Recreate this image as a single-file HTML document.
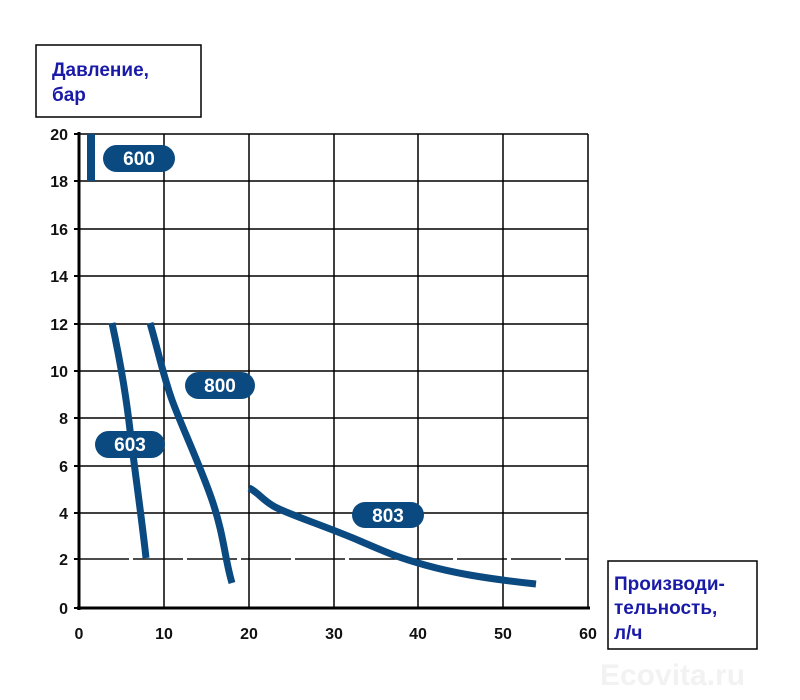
<!DOCTYPE html>
<html><head><meta charset="utf-8"><style>
body{margin:0;background:#fff;}
svg{display:block;}
</style></head><body>
<svg width="800" height="700" xmlns="http://www.w3.org/2000/svg" font-family="'Liberation Sans', sans-serif">
<rect width="800" height="700" fill="#fff"/>
<g stroke="#000" stroke-width="1.5">
<line x1="79" y1="134" x2="588" y2="134"/>
<line x1="79" y1="181" x2="588" y2="181"/>
<line x1="79" y1="229" x2="588" y2="229"/>
<line x1="79" y1="276" x2="588" y2="276"/>
<line x1="79" y1="324" x2="588" y2="324"/>
<line x1="79" y1="371" x2="588" y2="371"/>
<line x1="79" y1="418" x2="588" y2="418"/>
<line x1="79" y1="466" x2="588" y2="466"/>
<line x1="79" y1="513" x2="588" y2="513"/>
<line x1="79" y1="559" x2="588" y2="559" stroke="#111" stroke-dasharray="50 4"/>
<line x1="164" y1="134" x2="164" y2="608"/>
<line x1="249" y1="134" x2="249" y2="608"/>
<line x1="334" y1="134" x2="334" y2="608"/>
<line x1="418" y1="134" x2="418" y2="608"/>
<line x1="503" y1="134" x2="503" y2="608"/>
<line x1="588" y1="134" x2="588" y2="608"/>
</g>
<line x1="79" y1="132" x2="79" y2="610" stroke="#000" stroke-width="3"/>
<line x1="77" y1="608" x2="590" y2="608" stroke="#000" stroke-width="3"/>
<g stroke="#000" stroke-width="2">
<line x1="74" y1="134" x2="79" y2="134"/><line x1="74" y1="181" x2="79" y2="181"/><line x1="74" y1="229" x2="79" y2="229"/><line x1="74" y1="276" x2="79" y2="276"/><line x1="74" y1="324" x2="79" y2="324"/><line x1="74" y1="371" x2="79" y2="371"/><line x1="74" y1="418" x2="79" y2="418"/><line x1="74" y1="466" x2="79" y2="466"/><line x1="74" y1="513" x2="79" y2="513"/><line x1="74" y1="559" x2="79" y2="559"/><line x1="74" y1="608" x2="79" y2="608"/>
</g>
<g font-size="16" font-weight="bold" fill="#111" text-anchor="end">
<text x="68" y="140">20</text><text x="68" y="187">18</text><text x="68" y="235">16</text><text x="68" y="282">14</text><text x="68" y="330">12</text><text x="68" y="377">10</text><text x="68" y="424">8</text><text x="68" y="472">6</text><text x="68" y="519">4</text><text x="68" y="565">2</text><text x="68" y="614">0</text>
</g>
<g font-size="16" font-weight="bold" fill="#111" text-anchor="middle">
<text x="79" y="639">0</text><text x="164" y="639">10</text><text x="249" y="639">20</text><text x="334" y="639">30</text><text x="418" y="639">40</text><text x="503" y="639">50</text><text x="588" y="639">60</text>
</g>
<g fill="none" stroke="#0b4a80" stroke-width="7" stroke-linecap="butt" stroke-linejoin="round">
<line x1="91" y1="134" x2="91" y2="181" stroke-width="8"/>
<path d="M112,323 C120,360 126,395 130,430 S142,520 146,558"/>
<path d="M150,323 C158,350 163,375 172,400 S200,465 212,500 S225,560 232,583"/>
<path d="M249,488 C258,492 262,500 275,507 S330,528 360,541 S400,558 425,565 S480,578 536,584"/>
</g>
<g font-size="19" font-weight="bold" fill="#fff" text-anchor="middle">
<rect x="103" y="145" width="72" height="27" rx="13.5" fill="#0b4a80"/><text x="139" y="165">600</text>
<rect x="185" y="372" width="70" height="27" rx="13.5" fill="#0b4a80"/><text x="220" y="392">800</text>
<rect x="95" y="431" width="70" height="27" rx="13.5" fill="#0b4a80"/><text x="130" y="451">603</text>
<rect x="352" y="502" width="72" height="26" rx="13" fill="#0b4a80"/><text x="388" y="522">803</text>
</g>
<rect x="36" y="45" width="165" height="72" fill="#fff" stroke="#000" stroke-width="1.5"/>
<g font-size="19" font-weight="bold" fill="#1a1aa8">
<text x="52" y="76">Давление,</text><text x="52" y="101">бар</text>
</g>
<rect x="608" y="561" width="149" height="88" fill="#fff" stroke="#000" stroke-width="1.5"/>
<g font-size="19" font-weight="bold" fill="#1a1aa8">
<text x="614" y="590">Производи-</text><text x="614" y="614">тельность,</text><text x="614" y="639">л/ч</text>
</g>
<text x="600" y="685" font-size="30" font-weight="bold" fill="#f2f2f2">Ecovita.ru</text>
</svg>
</body></html>
